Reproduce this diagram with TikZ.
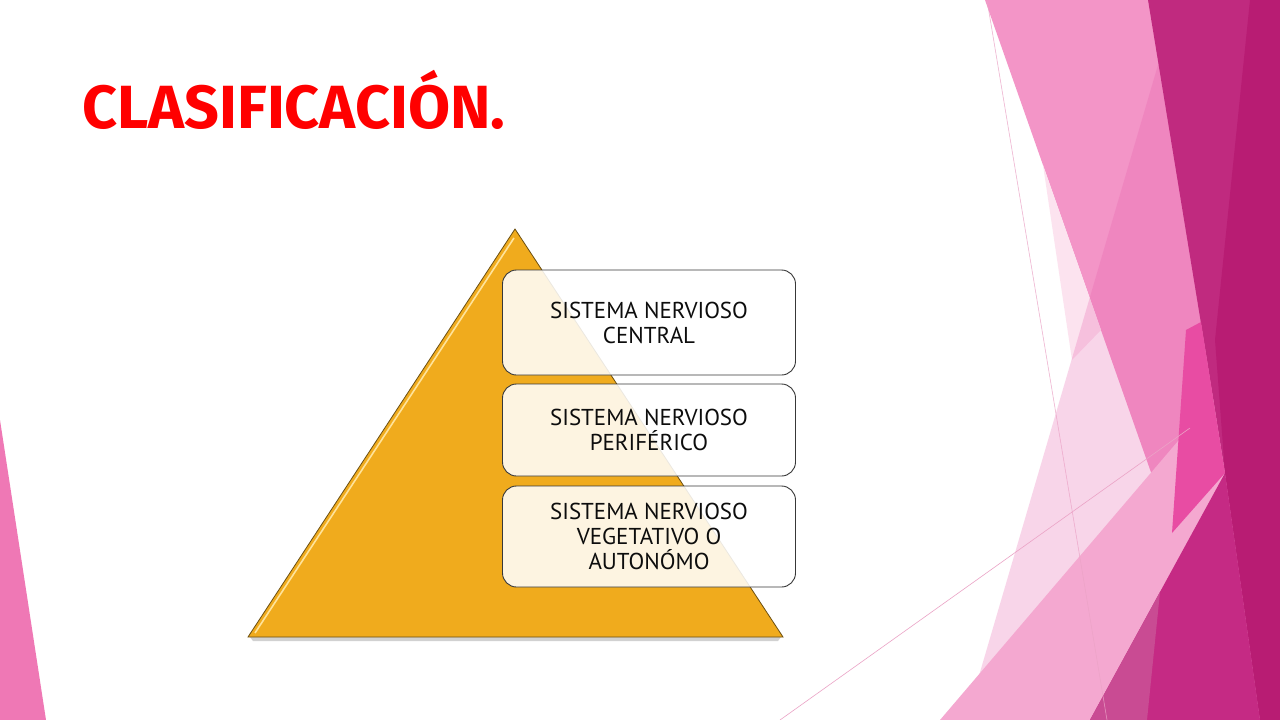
\documentclass[tikz,border=0pt]{standalone}
\usepackage{fontspec}
\setmainfont{PT Sans}
\newfontfamily\titlefont{Fira Sans}
\definecolor{lightband}{HTML}{F395C7}
\definecolor{tone}{HTML}{E75BAB}
\definecolor{sliver}{HTML}{FCE3EF}
\definecolor{band}{HTML}{F4A8D0}
\definecolor{hotpink}{HTML}{E84CA3}
\definecolor{darkA}{HTML}{C02A7F}
\definecolor{darkB}{HTML}{B81C73}
\definecolor{magA}{HTML}{C52A84}
\definecolor{magL}{HTML}{C94B93}
\definecolor{thinline}{HTML}{EBA3C6}
\definecolor{leftpink}{HTML}{EF78B5}
\definecolor{gold}{HTML}{F0AB1D}
\definecolor{goldedge}{HTML}{6B4F12}
\definecolor{goldlight}{HTML}{FFE39A}
\definecolor{titlered}{HTML}{FF0000}
\tikzset{
  boxst/.style={draw=black!78, line width=0.9pt, rounded corners=14pt,
    fill=white, fill opacity=0.87, text opacity=1, minimum width=293pt,
    align=center, inner sep=2pt, text=black!95,
    font=\fontsize{23}{25}\selectfont},
}
\begin{document}
\begin{tikzpicture}[x=1pt,y=-1pt]
\useasboundingbox (0,0) rectangle (1280,720);
\fill[white] (0,0) rectangle (1280,720);
% left decoration
\fill[leftpink] (0,420) -- (46,720) -- (0,720) -- cycle;
% right decoration
\fill[lightband] (985,0) -- (1280,0) -- (1280,720) -- (1238,720) -- cycle;
\fill[sliver] (1043,165) -- (1101,330) -- (1072,360) -- cycle;
\fill[tone, fill opacity=0.25] (1177,0) -- (1280,0) -- (1280,720) -- (966,720) -- cycle;
\fill[band] (940,720) -- (1190,427) -- (1280,322) -- (1280,720) -- cycle;
\fill[darkA] (1148,0) -- (1280,0) -- (1280,720) -- (1260,720) -- (1225,473) -- (1207,360) -- cycle;
\fill[darkB] (1250,0) -- (1280,0) -- (1280,720) -- (1260,720) -- (1225,473) -- (1215,340) -- cycle;
\fill[hotpink] (1186,330) -- (1201,322) -- (1207,360) -- (1225,473) -- (1172,533) -- cycle;
\fill[magA] (1090,720) -- (1225,473) -- (1260,720) -- cycle;
\fill[magL] (1090,720) -- (1147,720) -- (1160,592) -- cycle;
\draw[thinline, line width=0.6pt, opacity=0.8] (987,0) -- (1107,720);
\draw[thinline, line width=0.6pt] (780,720) -- (1190,428);
% title
\node[anchor=base west, inner sep=0, text=titlered,
      font=\titlefont\bfseries\fontsize{61}{61}\selectfont] (title) at (82,128) {CLASIFICACIÓN.};
% pyramid
\fill[black, opacity=0.18] (250,637) -- (781,637) -- (778,641) -- (253,641) -- cycle;
\draw[goldedge, line width=0.8pt, fill=gold] (515,229) -- (783,637) -- (248,637) -- cycle;
\draw[goldlight, line width=1.6pt] (255,633) -- (514,238);
% boxes
\node[boxst, minimum height=105pt] (b1) at (649,322.5) {SISTEMA NERVIOSO\\CENTRAL};
\node[boxst, minimum height=92pt] (b2) at (649,430) {SISTEMA NERVIOSO\\PERIFÉRICO};
\node[boxst, minimum height=101pt] (b3) at (649,536.5) {SISTEMA NERVIOSO\\VEGETATIVO O\\AUTONÓMO};
\end{tikzpicture}
\end{document}
